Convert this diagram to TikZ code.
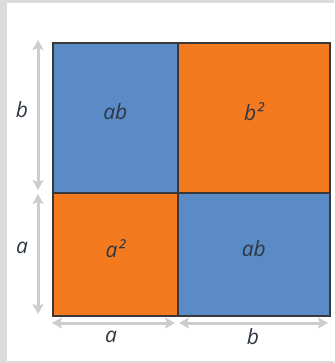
\documentclass[tikz,border=0pt]{standalone}
\usepackage{fontspec}
\setmainfont{Open Sans}
\usetikzlibrary{arrows.meta}

\definecolor{sqblue}{HTML}{5A8BC7}
\definecolor{sqorange}{HTML}{F47A20}
\definecolor{dimline}{HTML}{CDCDCD}
\definecolor{pagegray}{HTML}{DCDCDC}
\definecolor{ink}{HTML}{2F3742}

\tikzset{
    cell/.style={draw=black!78, line width=1.6pt, inner sep=0pt, anchor=north west},
    tag/.style={text=ink, font=\fontsize{21}{24}\selectfont\itshape, inner sep=0pt},
    dimarrow/.style={draw=dimline, line width=3pt,
        {Stealth[width=11pt,length=10pt,inset=2pt]}-{Stealth[width=11pt,length=10pt,inset=2pt]}}
}

\begin{document}
\begin{tikzpicture}[x=1pt,y=-1pt]
    % Page frame
    \fill[pagegray] (0,0) rectangle (334,363);
    \fill[white] (7,3) rectangle (334,361);
    \useasboundingbox (0,0) rectangle (334,363);

    % The four parts of the square
    \node[cell, fill=sqblue, minimum width=125pt, minimum height=150pt] (ab1) at (52,42) {};
    \node[cell, fill=sqorange, minimum width=152pt, minimum height=150pt] (bb) at (177,42) {};
    \node[cell, fill=sqorange, minimum width=125pt, minimum height=123pt] (aa) at (52,192) {};
    \node[cell, fill=sqblue, minimum width=152pt, minimum height=123pt] (ab2) at (177,192) {};

    % Areas
    \node[tag] (tab1) at ([yshift=6pt]ab1.center) {ab};
    \node[tag] (tbb)  at ([yshift=6pt]bb.center) {b²};
    \node[tag] (taa)  at ([yshift=6pt]aa.center) {a²};
    \node[tag] (tab2) at ([yshift=6pt]ab2.center) {ab};

    % Side lengths
    \coordinate (lb1) at (38,40);
    \coordinate (lb2) at (38,190);
    \coordinate (la1) at (38,194);
    \coordinate (la2) at (38,314);
    \coordinate (ba1) at (52,323);
    \coordinate (ba2) at (175,323);
    \coordinate (bb1) at (179,323);
    \coordinate (bb2) at (328,323);
    \draw[dimarrow] (lb1) -- (lb2);
    \draw[dimarrow] (la1) -- (la2);
    \draw[dimarrow] (ba1) -- (ba2);
    \draw[dimarrow] (bb1) -- (bb2);

    \node[tag] (sb) at (22,110) {b};
    \node[tag] (sa) at (22,248) {a};
    \node[tag] (ua) at (111,337) {a};
    \node[tag] (ub) at (253,337) {b};
\end{tikzpicture}
\end{document}
